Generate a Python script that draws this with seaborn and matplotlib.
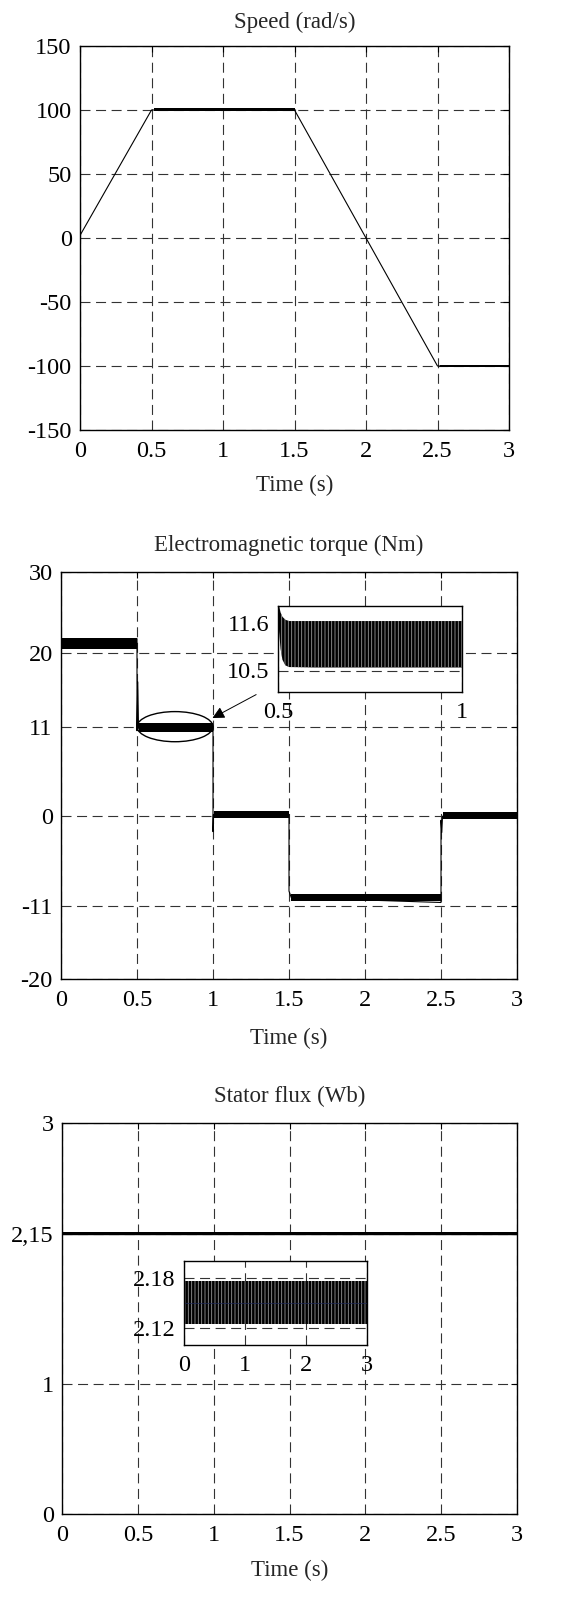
import numpy as np
import pandas as pd
import matplotlib
matplotlib.use("Agg")
import matplotlib.pyplot as plt
from matplotlib.patches import Ellipse
import seaborn as sns

# ---------------- data ----------------
# speed (rad/s): breakpoints of the reference profile
speed_t = [0.0, 0.5, 1.5, 2.5, 3.0]
speed_w = [2.0, 100.0, 100.0, -100.0, -100.0]
# ripple band on the flat parts
speed_band_t0 = [0.52, 2.52]
speed_band_t1 = [1.5, 3.0]
speed_band_lo = [99.5, -100.8]
speed_band_hi = [101.3, -99.3]

# electromagnetic torque (Nm): transitions
torque_t = [0.0, 0.003, 0.5, 0.5, 0.505, 0.51, 0.515, 1.0, 1.0, 1.003, 1.5, 1.5, 1.515, 2.5, 2.5, 2.505, 2.51, 3.0]
torque_v = [19.6, 21.0, 21.8, 10.5, 16.5, 10.8, 11.0, 11.0, -1.9, 0.2, 0.2, -9.2, -10.0, -10.6, -0.5, -2.0, 0.0, 0.0]
# ripple bands of each load step
torque_band_t0 = [0.005, 0.515, 1.005, 1.515, 2.51]
torque_band_t1 = [0.5, 1.0, 1.5, 2.5, 3.0]
torque_band_lo = [20.5, 10.4, -0.2, -10.4, -0.3]
torque_band_hi = [21.9, 11.5, 0.6, -9.5, 0.5]

# zoom of the torque between 0.5 s and 1 s (upper / lower envelope)
tz_t = [0.5, 0.503, 0.507, 0.512, 0.52, 0.53, 0.6, 0.8, 1.0]
tz_hi = [12.0, 12.0, 11.85, 11.75, 11.68, 11.65, 11.65, 11.65, 11.65]
tz_lo = [12.0, 11.4, 11.0, 10.75, 10.62, 10.58, 10.57, 10.57, 10.57]

# stator flux (Wb)
flux_t = [0.0, 3.0]
flux_lo = [2.137, 2.137]
flux_hi = [2.163, 2.163]
flux_ref = [2.15, 2.15]
# zoom of the flux
fz_lo = [2.125, 2.125]
fz_hi = [2.176, 2.176]

W, H = 573, 1609
sns.set_style("white", {"axes.edgecolor": "black", "axes.linewidth": 1.0})
plt.rcParams["font.family"] = ["Liberation Serif", "DejaVu Serif"]
plt.rcParams["hatch.linewidth"] = 0.6

fig = plt.figure(figsize=(W / 100, H / 100), dpi=100)
fig.patch.set_facecolor("white")


def box(l, t, r, b):
    return [l / W, 1 - b / H, (r - l) / W, (b - t) / H]


GRID = dict(color="#333333", linestyle=(0, (9, 5)), linewidth=0.8)
TICK_FS = 17.5
LAB_FS = 16.5


def style(ax, xt, yt, ylabels=None, fs=TICK_FS, xpad=8):
    ax.set_xlim(xt[0], xt[-1])
    ax.set_xticks(xt)
    ax.set_xticklabels([("%g" % v) for v in xt])
    ax.set_yticks(yt)
    ax.set_yticklabels(ylabels if ylabels else [("%g" % v) for v in yt])
    ax.tick_params(direction="in", length=4, width=0.8, top=True, right=True,
                   labelsize=fs, colors="black", pad=6)
    ax.tick_params(axis="x", pad=xpad)
    ax.grid(True, **GRID)
    ax.set_axisbelow(True)
    for s in ax.spines.values():
        s.set_color("black")
        s.set_linewidth(1.0)


# ---------------- speed ----------------
ax1 = fig.add_axes(box(80, 46, 509, 430))
sns.lineplot(x=speed_t, y=speed_w, ax=ax1, color="black", lw=0.8, estimator=None, sort=False)
for a, b, lo, hi in zip(speed_band_t0, speed_band_t1, speed_band_lo, speed_band_hi):
    ax1.fill_between([a, b], [lo, lo], [hi, hi], color="black", lw=0)
ax1.set_ylim(-150, 150)
style(ax1, [0, 0.5, 1, 1.5, 2, 2.5, 3], [-150, -100, -50, 0, 50, 100, 150])
ax1.set_title("Speed (rad/s)", fontsize=LAB_FS, pad=13)
ax1.set_xlabel("Time (s)", fontsize=LAB_FS, labelpad=9)
ax1.set_ylabel("")

# ---------------- torque ----------------
ax2 = fig.add_axes(box(61, 572, 517, 979))
sns.lineplot(x=torque_t, y=torque_v, ax=ax2, color="black", lw=0.8, estimator=None, sort=False)
for a, b, lo, hi in zip(torque_band_t0, torque_band_t1, torque_band_lo, torque_band_hi):
    ax2.fill_between([a, b], [lo, lo], [hi, hi], color="black", lw=0)
ax2.set_ylim(-20, 30)
style(ax2, [0, 0.5, 1, 1.5, 2, 2.5, 3], [-20, -11, 0, 11, 20, 30])
ax2.set_title("Electromagnetic torque (Nm)", fontsize=LAB_FS, pad=15)
ax2.set_xlabel("Time (s)", fontsize=LAB_FS, labelpad=12)
ax2.set_ylabel("")
ax2.add_patch(Ellipse((0.75, 11.0), 0.5, 3.7, fill=False, lw=1.0, color="black", zorder=5))
ax2.annotate("", xy=(0.98, 11.9), xytext=(1.3, 15.1),
             arrowprops=dict(arrowstyle="-|>", color="black", lw=0.7, mutation_scale=18))

ins2 = fig.add_axes(box(278, 606, 462, 692))
ins2.set_facecolor("white")
ins2.fill_between(tz_t, tz_lo, tz_hi, facecolor="black", edgecolor="#9a9a9a", hatch="|||||", lw=0)
ins2.set_ylim(10, 12)
style(ins2, [0.5, 1], [10.5, 11.6], xpad=7)
ins2.tick_params(length=0)

# ---------------- flux ----------------
ax3 = fig.add_axes(box(62, 1123, 517, 1514))
ax3.fill_between(flux_t, flux_lo, flux_hi, color="black", lw=0)
sns.lineplot(x=flux_t, y=flux_ref, ax=ax3, color="black", lw=1.0, estimator=None, sort=False)
ax3.set_ylim(0, 3)
style(ax3, [0, 0.5, 1, 1.5, 2, 2.5, 3], [0, 1, 2.15, 3], ["0", "1", "2,15", "3"])
ax3.set_title("Stator flux (Wb)", fontsize=LAB_FS, pad=15)
ax3.set_xlabel("Time (s)", fontsize=LAB_FS, labelpad=10)
ax3.set_ylabel("")

ins3 = fig.add_axes(box(184, 1261, 367, 1345))
ins3.set_facecolor("white")
ins3.fill_between(flux_t, fz_lo, fz_hi, facecolor="black", edgecolor="#9a9a9a", hatch="|||||", lw=0)
sns.lineplot(x=flux_t, y=flux_ref, ax=ins3, color="#1f2a5a", lw=0.5, estimator=None, sort=False)
ins3.set_ylim(2.1, 2.2)
style(ins3, [0, 1, 2, 3], [2.12, 2.18], xpad=7)
ins3.tick_params(length=0)
ins3.set_ylabel("")

fig.savefig("out.png", dpi=100)
